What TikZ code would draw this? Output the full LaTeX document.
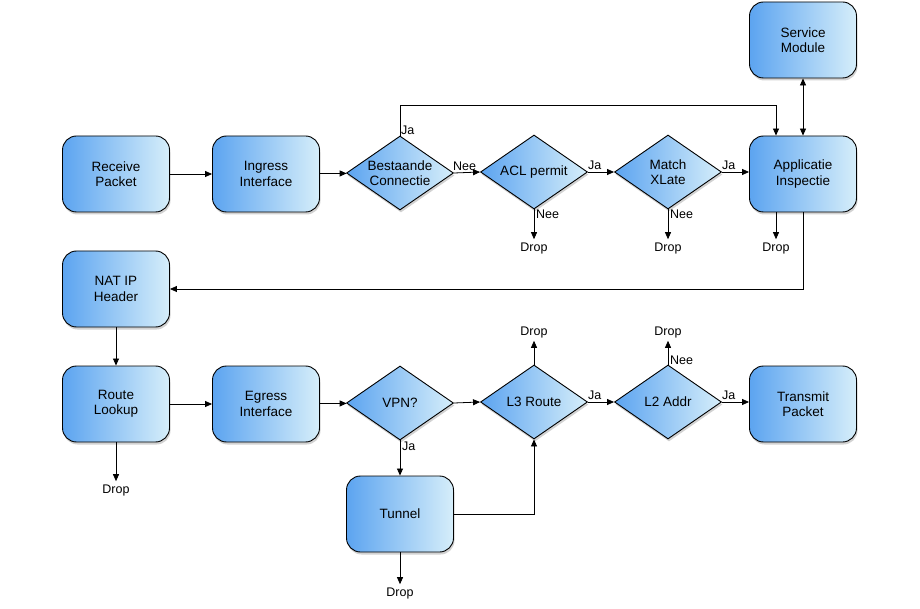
\documentclass[tikz,border=0pt]{standalone}
\usepackage{fontspec}
\setmainfont{Liberation Sans}
\usetikzlibrary{shapes.geometric,arrows.meta,shadows}
\definecolor{boxl}{RGB}{92,164,240}
\definecolor{boxr}{RGB}{214,238,250}
\begin{document}
\begin{tikzpicture}[x=1pt,y=-1pt,
  txt/.style={font=\fontsize{13.5}{15.5}\selectfont},
  ltxt/.style={font=\fontsize{12.5}{15}\selectfont},
  box/.style={txt, draw=black, line width=0.9pt, rounded corners=14pt,
    minimum width=107pt, minimum height=76pt, inner sep=2pt, align=center,
    left color=boxl, right color=boxr,
    drop shadow={shadow xshift=1pt, shadow yshift=-2.5pt, opacity=0.35}},
  dia/.style={txt, diamond, shape aspect=1.45, draw=black, line width=0.9pt,
    minimum width=107pt, minimum height=74pt, inner sep=-1pt, align=center,
    left color=boxl, right color=boxr,
    drop shadow={shadow xshift=1pt, shadow yshift=-2.5pt, opacity=0.35}},
  arr/.style={-{Triangle[length=7pt,width=6pt]}, line width=0.8pt},
  darr/.style={{Triangle[length=7pt,width=6pt]}-{Triangle[length=7pt,width=6pt]}, line width=0.8pt},
  lbl/.style={ltxt, inner sep=1pt},
  drop/.style={ltxt, inner sep=3pt}]
\useasboundingbox (0,0) rectangle (920,609);
\fill[white] (0,0) rectangle (920,609);

% row 1
\node[box] (recv) at (116,174) {Receive\\Packet};
\node[box] (ingr) at (266,174) {Ingress\\Interface};
\node[dia] (best) at (400,173) {Bestaande\\Connectie};
\node[dia] (acl)  at (534,172) {ACL permit};
\node[dia] (mx)   at (668,172) {Match\\XLate};
\node[box] (app)  at (803,174) {Applicatie\\Inspectie};
\node[box] (svc)  at (803,40)  {Service\\Module};

% row 2
\node[box] (nat)  at (116,289) {NAT IP\\Header};

% row 3
\node[box] (rl)   at (116,404) {Route\\Lookup};
\node[box] (egr)  at (266,404) {Egress\\Interface};
\node[dia] (vpn)  at (400,403) {VPN?};
\node[dia] (l3)   at (534,402) {L3 Route};
\node[dia] (l2)   at (668,402) {L2 Addr};
\node[box] (tx)   at (803,404) {Transmit\\Packet};
\node[box] (tun)  at (400,514) {Tunnel};

% drop texts
\node[drop] (dA)  at (534,248) {Drop};
\node[drop] (dB)  at (668,248) {Drop};
\node[drop] (dC)  at (776,248) {Drop};
\node[drop] (dR)  at (116,490) {Drop};
\node[drop] (dT)  at (400,593) {Drop};
\node[drop] (dL3) at (534,332) {Drop};
\node[drop] (dL2) at (668,332) {Drop};

\coordinate (appdl) at ([xshift=-27pt]app.south);
\coordinate (appul) at ([xshift=-27pt]app.north);
\coordinate (loop) at (400,105);

% connectors row 1
\draw[arr] (recv) -- (ingr);
\draw[arr] (ingr) -- (best);
\draw[arr] (best.east) -- (acl.west);
\draw[arr] (acl.east) -- (mx.west);
\draw[arr] (mx.east) -- (app.west |- mx.east);
\draw[arr] (best.north) -- (loop) -| (appul);
\draw[darr] (svc.south) -- (app.north);
\draw[arr] (acl.south) -- (dA);
\draw[arr] (mx.south) -- (dB);
\draw[arr] (appdl) -- (appdl |- dC.north);
\draw[arr] (app.south) |- (nat.east);

% row 2/3
\draw[arr] (nat) -- (rl);
\draw[arr] (rl) -- (egr);
\draw[arr] (egr) -- (vpn);
\draw[arr] (vpn.east) -- (l3.west);
\draw[arr] (l3.east) -- (l2.west);
\draw[arr] (l2.east) -- (tx.west |- l2.east);
\draw[arr] (rl.south) -- (dR);
\draw[arr] (vpn.south) -- (tun.north);
\draw[arr] (tun.south) -- (dT);
\draw[arr] (tun.east) -| (l3.south);
\draw[arr] (l3.north) -- (dL3);
\draw[arr] (l2.north) -- (dL2);

% labels
\node[lbl, anchor=south west] (j1) at (400,136) {Ja};
\node[lbl, anchor=south west] (n1) at (452,172) {Nee};
\node[lbl, anchor=south west] (j2) at (587,171) {Ja};
\node[lbl, anchor=south west] (j3) at (721,171) {Ja};
\node[lbl, anchor=north west] (n2) at (535,209) {Nee};
\node[lbl, anchor=north west] (n3) at (669,209) {Nee};
\node[lbl, anchor=north west] (j4) at (401,441) {Ja};
\node[lbl, anchor=south west] (j5) at (587,401) {Ja};
\node[lbl, anchor=south west] (j6) at (721,401) {Ja};
\node[lbl, anchor=south west] (n4) at (669,366) {Nee};
\end{tikzpicture}
\end{document}
